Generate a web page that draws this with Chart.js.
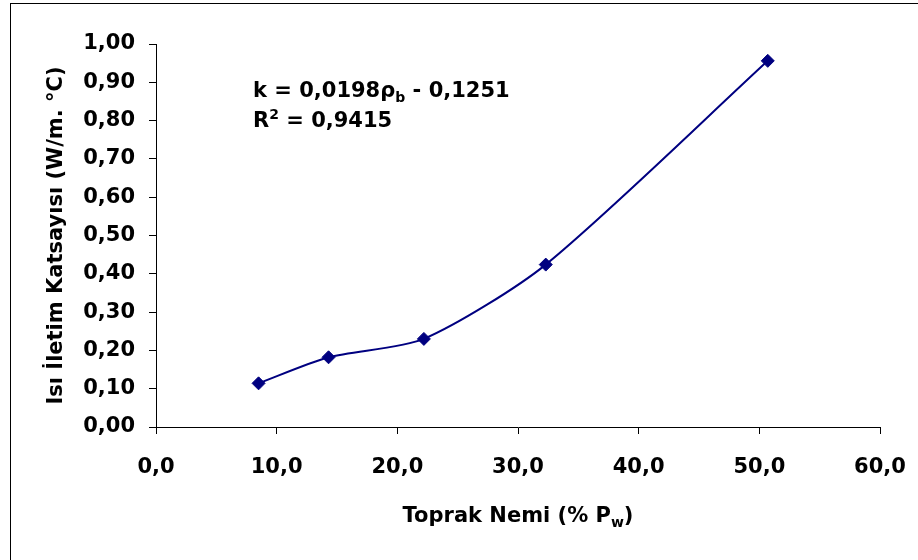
<!DOCTYPE html>
<html>
<head>
<meta charset="utf-8">
<script src="https://cdn.jsdelivr.net/npm/chart.js@4/dist/chart.umd.min.js"></script>
<style>
  html, body { margin: 0; padding: 0; background: #fff; overflow: hidden; }
  #wrap { position: relative; width: 918px; height: 560px; }
  #frame {
    position: absolute; left: 10px; top: 3px; width: 1000px; height: 1000px;
    border: 1px solid #000; box-sizing: border-box; pointer-events: none;
  }
  .txt {
    position: absolute; font-family: "DejaVu Sans", sans-serif; font-weight: bold;
    font-size: 21px; line-height: 24px; color: #000; white-space: nowrap;
  }
  .txt sub, .txt sup { font-size: 14px; line-height: 0; }
</style>
</head>
<body>
<div id="wrap">
  <canvas id="chart" width="918" height="560"></canvas>
  <div id="frame"></div>
  <div class="txt" style="left:253px; top:78px;">k = 0,0198ρ<sub>b</sub> - 0,1251</div>
  <div class="txt" style="left:253px; top:108px;">R<sup>2</sup> = 0,9415</div>
  <div class="txt" style="left:118px; top:503px; width:800px; text-align:center;">Toprak Nemi (% P<sub>w</sub>)</div>
</div>
<script>
// values
const xValues = [8.5, 14.3, 22.2, 32.3, 50.7];
const yValues = [0.114, 0.182, 0.230, 0.424, 0.956];
const xTickLabels = ['0,0', '10,0', '20,0', '30,0', '40,0', '50,0', '60,0'];
const yTickLabels = ['0,00', '0,10', '0,20', '0,30', '0,40', '0,50', '0,60', '0,70', '0,80', '0,90', '1,00'];
const yTitle = 'Isı İletim Katsayısı (W/m. °C)';

const navy = '#000080';
const font = { family: '"DejaVu Sans", sans-serif', weight: 'bold', size: 21 };

const points = xValues.map((x, i) => ({ x: x, y: yValues[i] }));

new Chart(document.getElementById('chart'), {
    type: 'scatter',
    data: {
        datasets: [{
            data: points,
            showLine: true,
            tension: 0.25,
            borderColor: navy,
            borderWidth: 2,
            backgroundColor: navy,
            pointStyle: 'rectRot',
            pointRadius: 6.5,
            pointBorderWidth: 1,
            pointBorderColor: navy,
            pointBackgroundColor: navy,
        }]
    },
    options: {
        responsive: false,
        animation: false,
        events: [],
        layout: { padding: { left: 40, top: 44, right: 38, bottom: 0 } },
        plugins: { legend: { display: false }, tooltip: { enabled: false } },
        scales: {
            x: {
                type: 'linear',
                min: 0, max: 60,
                ticks: {
                    stepSize: 10, color: '#000', font: font, padding: 21,
                    maxRotation: 0,
                    callback: (v, i) => xTickLabels[i]
                },
                grid: { drawOnChartArea: false, drawTicks: true, tickLength: 7, color: '#000', tickColor: '#000' },
                border: { color: '#000', width: 1 },
                // fixed height, and let the layout padding decide the sides
                afterFit: (s) => { s.height = 133; s.paddingLeft = 0; s.paddingRight = 0; }
            },
            y: {
                min: 0, max: 1,
                ticks: {
                    stepSize: 0.1, color: '#000', font: font, padding: 14,
                    callback: (v, i) => yTickLabels[i]
                },
                grid: { drawOnChartArea: false, drawTicks: true, tickLength: 7, color: '#000', tickColor: '#000' },
                border: { color: '#000', width: 1 },
                title: { display: true, text: yTitle, color: '#000', font: font },
                afterFit: (s) => { s.width = 116; }
            }
        }
    }
});
</script>
</body>
</html>
